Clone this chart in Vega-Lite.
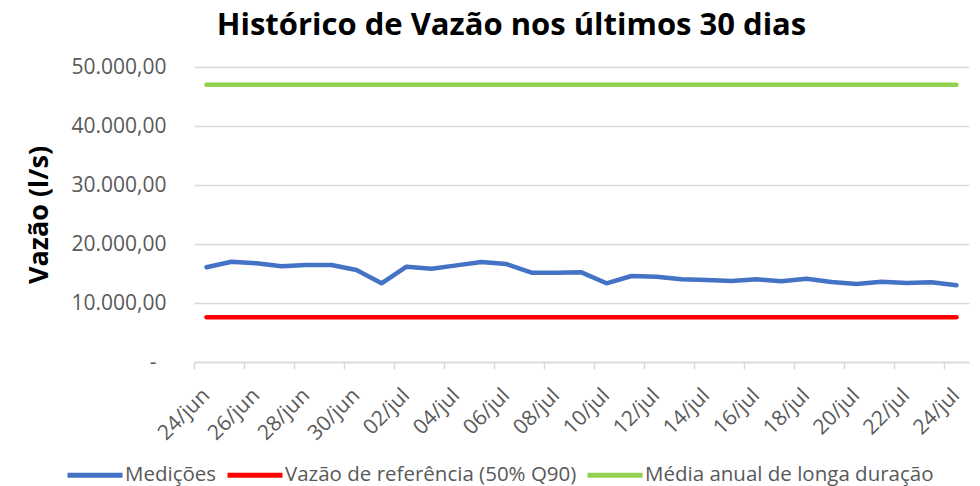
{
  "$schema": "https://vega.github.io/schema/vega-lite/v6.json",
  "width": 775,
  "height": 295,
  "autosize": "none",
  "padding": {"left": 194, "top": 67, "right": 11, "bottom": 124},
  "background": "white",
  "config": {"view": {"stroke": null}, "font": "Open Sans"},
  "title": {"text": "Histórico de Vazão nos últimos 30 dias", "fontSize": 31, "fontWeight": "bold", "color": "black", "dx": -70, "offset": 14, "font": "Open Sans"},
  "data": {"values": [
    {"data": "24/jun", "serie": "Medições", "valor": 16050},
    {"data": "25/jun", "serie": "Medições", "valor": 17000},
    {"data": "26/jun", "serie": "Medições", "valor": 16730},
    {"data": "27/jun", "serie": "Medições", "valor": 16220},
    {"data": "28/jun", "serie": "Medições", "valor": 16440},
    {"data": "29/jun", "serie": "Medições", "valor": 16440},
    {"data": "30/jun", "serie": "Medições", "valor": 15590},
    {"data": "01/jul", "serie": "Medições", "valor": 13340},
    {"data": "02/jul", "serie": "Medições", "valor": 16160},
    {"data": "03/jul", "serie": "Medições", "valor": 15820},
    {"data": "04/jul", "serie": "Medições", "valor": 16380},
    {"data": "05/jul", "serie": "Medições", "valor": 16950},
    {"data": "06/jul", "serie": "Medições", "valor": 16610},
    {"data": "07/jul", "serie": "Medições", "valor": 15140},
    {"data": "08/jul", "serie": "Medições", "valor": 15140},
    {"data": "09/jul", "serie": "Medições", "valor": 15200},
    {"data": "10/jul", "serie": "Medições", "valor": 13340},
    {"data": "11/jul", "serie": "Medições", "valor": 14580},
    {"data": "12/jul", "serie": "Medições", "valor": 14460},
    {"data": "13/jul", "serie": "Medições", "valor": 14020},
    {"data": "14/jul", "serie": "Medições", "valor": 13900},
    {"data": "15/jul", "serie": "Medições", "valor": 13730},
    {"data": "16/jul", "serie": "Medições", "valor": 14020},
    {"data": "17/jul", "serie": "Medições", "valor": 13680},
    {"data": "18/jul", "serie": "Medições", "valor": 14120},
    {"data": "19/jul", "serie": "Medições", "valor": 13560},
    {"data": "20/jul", "serie": "Medições", "valor": 13220},
    {"data": "21/jul", "serie": "Medições", "valor": 13610},
    {"data": "22/jul", "serie": "Medições", "valor": 13390},
    {"data": "23/jul", "serie": "Medições", "valor": 13510},
    {"data": "24/jul", "serie": "Medições", "valor": 13000},
    {"data": "24/jun", "serie": "Vazão de referência (50% Q90)", "valor": 7600},
    {"data": "24/jul", "serie": "Vazão de referência (50% Q90)", "valor": 7600},
    {"data": "24/jun", "serie": "Média anual de longa duração", "valor": 47000},
    {"data": "24/jul", "serie": "Média anual de longa duração", "valor": 47000}
  ]},
  "mark": {"type": "line", "strokeWidth": 4.5, "strokeCap": "round", "strokeJoin": "round"},
  "encoding": {
    "x": {
      "field": "data", "type": "ordinal", "title": null,
      "sort": ["24/jun","25/jun","26/jun","27/jun","28/jun","29/jun","30/jun","01/jul","02/jul","03/jul","04/jul","05/jul","06/jul","07/jul","08/jul","09/jul","10/jul","11/jul","12/jul","13/jul","14/jul","15/jul","16/jul","17/jul","18/jul","19/jul","20/jul","21/jul","22/jul","23/jul","24/jul"],
      "scale": {"type": "band", "paddingInner": 0, "paddingOuter": 0},
      "axis": {
        "values": ["24/jun","26/jun","28/jun","30/jun","02/jul","04/jul","06/jul","08/jul","10/jul","12/jul","14/jul","16/jul","18/jul","20/jul","22/jul","24/jul"],
        "bandPosition": 0,
        "labelOffset": 0,
        "labelAngle": -45,
        "labelAlign": "right",
        "labelBaseline": "middle",
        "labelFontSize": 21,
        "labelColor": "#595959",
        "labelPadding": 23,
        "labelBound": false,
        "labelOverlap": false,
        "domainColor": "#d9d9d9",
        "domainWidth": 1.5,
        "tickColor": "#d9d9d9",
        "tickWidth": 1.5,
        "tickSize": 7,
        "grid": false
      }
    },
    "y": {
      "field": "valor", "type": "quantitative",
      "scale": {"domain": [0, 50000], "nice": false},
      "axis": {
        "values": [0, 10000, 20000, 30000, 40000, 50000],
        "labelExpr": "datum.value == 0 ? '-' : replace(replace(replace(format(datum.value, ',.2f'), ',', ' '), '.', ','), ' ', '.')",
        "labelFontSize": 21,
        "labelColor": "#595959",
        "labelPadding": {"condition": {"test": "datum.value == 0", "value": 38}, "value": 28},
        "domain": false,
        "ticks": false,
        "grid": true,
        "gridColor": "#d9d9d9",
        "gridWidth": 1.5,
        "title": "Vazão (l/s)",
        "titleFontSize": 27,
        "titleFontWeight": "bold",
        "titleColor": "black",
        "titleX": -141,
        "titleY": 147.5
      }
    },
    "color": {
      "field": "serie", "type": "nominal",
      "scale": {
        "domain": ["Medições", "Vazão de referência (50% Q90)", "Média anual de longa duração"],
        "range": ["#4472C4", "#FF0000", "#92D050"]
      },
      "legend": {
        "title": null,
        "orient": "none",
        "direction": "horizontal",
        "legendX": -129,
        "legendY": 378,
        "symbolType": "stroke",
        "symbolStrokeWidth": 5,
        "symbolSize": 3025,
        "labelFontSize": 20.5,
        "labelColor": "#595959",
        "labelLimit": 0,
        "labelOffset": 0,
        "columnPadding": 0
      }
    }
  }
}
